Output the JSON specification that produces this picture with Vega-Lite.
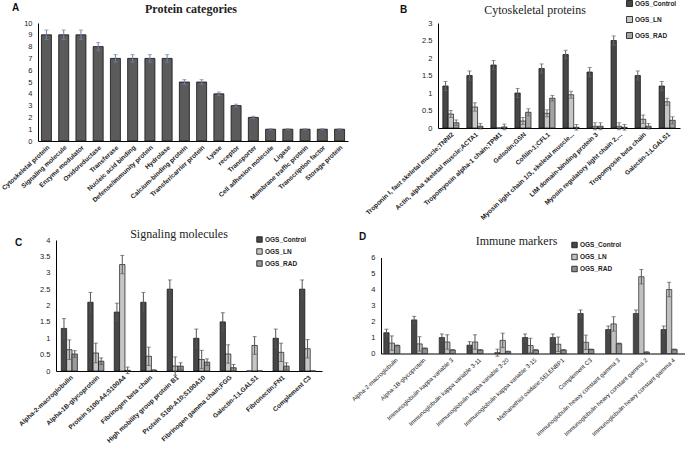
{
  "$schema": "https://vega.github.io/schema/vega-lite/v6.json",
  "padding": 0,
  "background": "white",
  "config": {
    "view": {"stroke": null},
    "axis": {"grid": false, "ticks": false, "domainColor": "#000", "domainWidth": 1, "labelFont": "Liberation Sans", "labelColor": "#222"},
    "axisX": {"labelAngle": -43, "labelFontSize": 6.5, "labelFontWeight": "bold", "labelPadding": 3, "labelLimit": 300, "labelOverlap": false},
    "axisY": {"labelFontSize": 7.5, "labelPadding": 6, "format": "~r", "labelOverlap": false, "titleFont": "Liberation Sans", "titleFontWeight": "bold", "titleFontSize": 10, "titleAngle": 0, "titleColor": "#111"},
    "title": {"font": "Liberation Serif", "fontWeight": "normal", "fontSize": 12, "color": "#222", "frame": "group"},
    "legend": {"labelFont": "Liberation Sans", "labelFontWeight": "bold", "labelFontSize": 6.5, "labelColor": "#222", "symbolType": "square", "symbolSize": 30, "symbolStrokeColor": "#111", "symbolStrokeWidth": 0.8, "rowPadding": 3, "labelOffset": 2, "title": null}
  },
  "datasets": {
    "A": [
      {"cat": "Cytoskeletal protein", "value": 9, "err": 0.4},
      {"cat": "Signaling molecule", "value": 9, "err": 0.4},
      {"cat": "Enzyme modulator", "value": 9, "err": 0.4},
      {"cat": "Oxidoreductase", "value": 8, "err": 0.35},
      {"cat": "Transferase", "value": 7, "err": 0.32},
      {"cat": "Nucleic acid binding", "value": 7, "err": 0.32},
      {"cat": "Defense/immunity protein", "value": 7, "err": 0.32},
      {"cat": "Hydrolase", "value": 7, "err": 0.32},
      {"cat": "Calcium-binding protein", "value": 5, "err": 0.2},
      {"cat": "Transfer/carrier protein", "value": 5, "err": 0.2},
      {"cat": "Lyase", "value": 4, "err": 0.15},
      {"cat": "receptor", "value": 3, "err": 0.12},
      {"cat": "Transporter", "value": 2, "err": 0.1},
      {"cat": "Cell adhesion molecule", "value": 1, "err": 0.05},
      {"cat": "Ligase", "value": 1, "err": 0.05},
      {"cat": "Membrane traffic protein", "value": 1, "err": 0.05},
      {"cat": "Transcription factor", "value": 1, "err": 0.05},
      {"cat": "Storage protein", "value": 1, "err": 0.05}
    ],
    "B": [
      {"cat": "Troponin I, fast skeletal muscle;TNNI2", "grp": "OGS_Control", "value": 1.2, "err": 0.13},
      {"cat": "Troponin I, fast skeletal muscle;TNNI2", "grp": "OGS_LN", "value": 0.4, "err": 0.1},
      {"cat": "Troponin I, fast skeletal muscle;TNNI2", "grp": "OGS_RAD", "value": 0.15, "err": 0.08},
      {"cat": "Actin, alpha skeletal muscle;ACTA1", "grp": "OGS_Control", "value": 1.5, "err": 0.13},
      {"cat": "Actin, alpha skeletal muscle;ACTA1", "grp": "OGS_LN", "value": 0.6, "err": 0.12},
      {"cat": "Actin, alpha skeletal muscle;ACTA1", "grp": "OGS_RAD", "value": 0.05, "err": 0.08},
      {"cat": "Tropomyosin alpha-1 chain;TPM1", "grp": "OGS_Control", "value": 1.8, "err": 0.13},
      {"cat": "Tropomyosin alpha-1 chain;TPM1", "grp": "OGS_LN", "value": 0, "err": 0},
      {"cat": "Tropomyosin alpha-1 chain;TPM1", "grp": "OGS_RAD", "value": 0.03, "err": 0.08},
      {"cat": "Gelsolin;GSN", "grp": "OGS_Control", "value": 1.0, "err": 0.13},
      {"cat": "Gelsolin;GSN", "grp": "OGS_LN", "value": 0.2, "err": 0.1},
      {"cat": "Gelsolin;GSN", "grp": "OGS_RAD", "value": 0.45, "err": 0.1},
      {"cat": "Cofilin-1;CFL1", "grp": "OGS_Control", "value": 1.7, "err": 0.13},
      {"cat": "Cofilin-1;CFL1", "grp": "OGS_LN", "value": 0.42, "err": 0.1},
      {"cat": "Cofilin-1;CFL1", "grp": "OGS_RAD", "value": 0.85, "err": 0.08},
      {"cat": "Myosin light chain 1/3, skeletal muscle...", "grp": "OGS_Control", "value": 2.1, "err": 0.12},
      {"cat": "Myosin light chain 1/3, skeletal muscle...", "grp": "OGS_LN", "value": 0.95, "err": 0.1},
      {"cat": "Myosin light chain 1/3, skeletal muscle...", "grp": "OGS_RAD", "value": 0.02, "err": 0.08},
      {"cat": "LIM domain-binding protein 3", "grp": "OGS_Control", "value": 1.6, "err": 0.13},
      {"cat": "LIM domain-binding protein 3", "grp": "OGS_LN", "value": 0.05, "err": 0.1},
      {"cat": "LIM domain-binding protein 3", "grp": "OGS_RAD", "value": 0.05, "err": 0.1},
      {"cat": "Myosin regulatory light chain 2,...", "grp": "OGS_Control", "value": 2.5, "err": 0.13},
      {"cat": "Myosin regulatory light chain 2,...", "grp": "OGS_LN", "value": 0.05, "err": 0.1},
      {"cat": "Myosin regulatory light chain 2,...", "grp": "OGS_RAD", "value": 0.02, "err": 0.08},
      {"cat": "Tropomyosin beta chain", "grp": "OGS_Control", "value": 1.5, "err": 0.13},
      {"cat": "Tropomyosin beta chain", "grp": "OGS_LN", "value": 0.25, "err": 0.12},
      {"cat": "Tropomyosin beta chain", "grp": "OGS_RAD", "value": 0.05, "err": 0.08},
      {"cat": "Galectin-1;LGALS1", "grp": "OGS_Control", "value": 1.2, "err": 0.13},
      {"cat": "Galectin-1;LGALS1", "grp": "OGS_LN", "value": 0.75, "err": 0.1},
      {"cat": "Galectin-1;LGALS1", "grp": "OGS_RAD", "value": 0.22, "err": 0.1}
    ],
    "C": [
      {"cat": "Alpha-2-macroglobulin", "grp": "OGS_Control", "value": 1.3, "err": 0.3},
      {"cat": "Alpha-2-macroglobulin", "grp": "OGS_LN", "value": 0.65, "err": 0.3},
      {"cat": "Alpha-2-macroglobulin", "grp": "OGS_RAD", "value": 0.52, "err": 0.1},
      {"cat": "Alpha-1B-glycoprotein", "grp": "OGS_Control", "value": 2.1, "err": 0.3},
      {"cat": "Alpha-1B-glycoprotein", "grp": "OGS_LN", "value": 0.55, "err": 0.3},
      {"cat": "Alpha-1B-glycoprotein", "grp": "OGS_RAD", "value": 0.3, "err": 0.1},
      {"cat": "Protein S100-A4;S100A4", "grp": "OGS_Control", "value": 1.8, "err": 0.27},
      {"cat": "Protein S100-A4;S100A4", "grp": "OGS_LN", "value": 3.25, "err": 0.28},
      {"cat": "Protein S100-A4;S100A4", "grp": "OGS_RAD", "value": 0.02, "err": 0.1},
      {"cat": "Fibrinogen beta chain", "grp": "OGS_Control", "value": 2.1, "err": 0.3},
      {"cat": "Fibrinogen beta chain", "grp": "OGS_LN", "value": 0.45, "err": 0.28},
      {"cat": "Fibrinogen beta chain", "grp": "OGS_RAD", "value": 0.02, "err": 0.02},
      {"cat": "High mobility group protein B1", "grp": "OGS_Control", "value": 2.5, "err": 0.28},
      {"cat": "High mobility group protein B1", "grp": "OGS_LN", "value": 0.15, "err": 0.28},
      {"cat": "High mobility group protein B1", "grp": "OGS_RAD", "value": 0.15, "err": 0.1},
      {"cat": "Protein S100-A10;S100A10", "grp": "OGS_Control", "value": 1.0, "err": 0.28},
      {"cat": "Protein S100-A10;S100A10", "grp": "OGS_LN", "value": 0.35, "err": 0.28},
      {"cat": "Protein S100-A10;S100A10", "grp": "OGS_RAD", "value": 0.27, "err": 0.1},
      {"cat": "Fibrinogen gamma chain;FGG", "grp": "OGS_Control", "value": 1.5, "err": 0.28},
      {"cat": "Fibrinogen gamma chain;FGG", "grp": "OGS_LN", "value": 0.52, "err": 0.28},
      {"cat": "Fibrinogen gamma chain;FGG", "grp": "OGS_RAD", "value": 0.1, "err": 0.1},
      {"cat": "Galectin-1;LGALS1", "grp": "OGS_Control", "value": 0, "err": 0},
      {"cat": "Galectin-1;LGALS1", "grp": "OGS_LN", "value": 0.78, "err": 0.27},
      {"cat": "Galectin-1;LGALS1", "grp": "OGS_RAD", "value": 0, "err": 0},
      {"cat": "Fibronectin;FN1", "grp": "OGS_Control", "value": 1.0, "err": 0.28},
      {"cat": "Fibronectin;FN1", "grp": "OGS_LN", "value": 0.57, "err": 0.28},
      {"cat": "Fibronectin;FN1", "grp": "OGS_RAD", "value": 0.15, "err": 0.1},
      {"cat": "Complement C3", "grp": "OGS_Control", "value": 2.5, "err": 0.28},
      {"cat": "Complement C3", "grp": "OGS_LN", "value": 0.68, "err": 0.28},
      {"cat": "Complement C3", "grp": "OGS_RAD", "value": 0, "err": 0}
    ],
    "D": [
      {"cat": "Alpha-2-macroglobulin", "grp": "OGS_Control", "value": 1.3, "err": 0.22},
      {"cat": "Alpha-2-macroglobulin", "grp": "OGS_LN", "value": 0.65, "err": 0.45},
      {"cat": "Alpha-2-macroglobulin", "grp": "OGS_RAD", "value": 0.5, "err": 0.03},
      {"cat": "Alpha-1B-glycoprotein", "grp": "OGS_Control", "value": 2.1, "err": 0.22},
      {"cat": "Alpha-1B-glycoprotein", "grp": "OGS_LN", "value": 0.6, "err": 0.45},
      {"cat": "Alpha-1B-glycoprotein", "grp": "OGS_RAD", "value": 0.32, "err": 0.03},
      {"cat": "Immunoglobulin kappa variable 3", "grp": "OGS_Control", "value": 1.0, "err": 0.22},
      {"cat": "Immunoglobulin kappa variable 3", "grp": "OGS_LN", "value": 0.72, "err": 0.45},
      {"cat": "Immunoglobulin kappa variable 3", "grp": "OGS_RAD", "value": 0.22, "err": 0.03},
      {"cat": "Immunoglobulin kappa variable 3-11", "grp": "OGS_Control", "value": 0.52, "err": 0.22},
      {"cat": "Immunoglobulin kappa variable 3-11", "grp": "OGS_LN", "value": 0.72, "err": 0.45},
      {"cat": "Immunoglobulin kappa variable 3-11", "grp": "OGS_RAD", "value": 0.22, "err": 0.03},
      {"cat": "Immunoglobulin kappa variable 3-20", "grp": "OGS_Control", "value": 0.05, "err": 0.22},
      {"cat": "Immunoglobulin kappa variable 3-20", "grp": "OGS_LN", "value": 0.82, "err": 0.45},
      {"cat": "Immunoglobulin kappa variable 3-20", "grp": "OGS_RAD", "value": 0.12, "err": 0.03},
      {"cat": "Immunoglobulin kappa variable 3-15", "grp": "OGS_Control", "value": 1.0, "err": 0.22},
      {"cat": "Immunoglobulin kappa variable 3-15", "grp": "OGS_LN", "value": 0.5, "err": 0.45},
      {"cat": "Immunoglobulin kappa variable 3-15", "grp": "OGS_RAD", "value": 0.22, "err": 0.03},
      {"cat": "Methanethiol oxidase;SELENBP1", "grp": "OGS_Control", "value": 1.0, "err": 0.22},
      {"cat": "Methanethiol oxidase;SELENBP1", "grp": "OGS_LN", "value": 0.58, "err": 0.45},
      {"cat": "Methanethiol oxidase;SELENBP1", "grp": "OGS_RAD", "value": 0.22, "err": 0.03},
      {"cat": "Complement C3", "grp": "OGS_Control", "value": 2.5, "err": 0.22},
      {"cat": "Complement C3", "grp": "OGS_LN", "value": 0.7, "err": 0.45},
      {"cat": "Complement C3", "grp": "OGS_RAD", "value": 0.25, "err": 0.03},
      {"cat": "Immunoglobulin heavy constant gamma 3", "grp": "OGS_Control", "value": 1.5, "err": 0.22},
      {"cat": "Immunoglobulin heavy constant gamma 3", "grp": "OGS_LN", "value": 1.85, "err": 0.45},
      {"cat": "Immunoglobulin heavy constant gamma 3", "grp": "OGS_RAD", "value": 0.62, "err": 0.03},
      {"cat": "Immunoglobulin heavy constant gamma 2", "grp": "OGS_Control", "value": 2.5, "err": 0.22},
      {"cat": "Immunoglobulin heavy constant gamma 2", "grp": "OGS_LN", "value": 4.8, "err": 0.45},
      {"cat": "Immunoglobulin heavy constant gamma 2", "grp": "OGS_RAD", "value": 0.08, "err": 0.03},
      {"cat": "Immunoglobulin heavy constant gamma 4", "grp": "OGS_Control", "value": 1.5, "err": 0.22},
      {"cat": "Immunoglobulin heavy constant gamma 4", "grp": "OGS_LN", "value": 4.0, "err": 0.45},
      {"cat": "Immunoglobulin heavy constant gamma 4", "grp": "OGS_RAD", "value": 0.25, "err": 0.03}
    ]
  },
  "spacing": 7,
  "resolve": {"scale": {"color": "independent", "x": "independent", "y": "independent"}, "legend": {"color": "independent"}},
  "vconcat": [
    {
      "bounds": "flush",
      "spacing": 90,
      "resolve": {"scale": {"color": "independent", "x": "independent", "y": "independent"}, "legend": {"color": "independent"}},
      "hconcat": [
        {
          "width": 310,
          "height": 118,
          "data": {"name": "A"},
          "title": {"text": "Protein categories", "fontWeight": "bold", "fontSize": 12, "offset": 9, "dx": -2, "dy": 23},
          "encoding": {
            "x": {"field": "cat", "type": "nominal", "sort": null, "title": null, "scale": {"paddingInner": 0.42, "paddingOuter": 0.2}},
            "y": {"field": "value", "type": "quantitative", "scale": {"domain": [0, 10]}, "title": "A", "axis": {"values": [0,1,2,3,4,5,6,7,8,9,10], "titleX": -23, "titleY": -11}}
          },
          "layer": [
            {"mark": {"type": "bar", "color": "#5b5b5b", "stroke": "#111", "strokeWidth": 0.8}},
            {"mark": {"type": "errorbar", "ticks": {"size": 4}, "color": "#6f84a8"}, "encoding": {"yError": {"field": "err"}}}
          ]
        },
        {
          "width": 242,
          "height": 105,
          "data": {"name": "B"},
          "title": {"text": "Cytoskeletal proteins", "fontSize": 12, "offset": 10, "dx": -24, "dy": 27},
          "encoding": {
            "x": {"field": "cat", "type": "nominal", "sort": null, "title": null, "scale": {"paddingInner": 0.33, "paddingOuter": 0.2}},
            "xOffset": {"field": "grp", "type": "nominal", "scale": {"paddingInner": 0, "domain": ["OGS_Control", "OGS_LN", "OGS_RAD"]}},
            "y": {"field": "value", "type": "quantitative", "scale": {"domain": [0, 3]}, "title": "B", "axis": {"values": [0,0.5,1,1.5,2,2.5,3], "titleX": -35, "titleY": -9}}
          },
          "layer": [
            {
              "mark": {"type": "bar", "stroke": "#111", "strokeWidth": 0.7},
              "encoding": {
                "color": {"field": "grp", "type": "nominal", "scale": {"domain": ["OGS_Control", "OGS_LN", "OGS_RAD"], "range": ["#474747", "#c6c6c6", "#a3a3a3"]}, "legend": {"orient": "none", "legendX": 188, "legendY": -23, "rowPadding": 5, "symbolSize": 36}}
              }
            },
            {"mark": {"type": "errorbar", "ticks": {"size": 4}, "color": "#666"}, "encoding": {"yError": {"field": "err"}}}
          ]
        }
      ]
    },
    {
      "bounds": "flush",
      "spacing": 17,
      "resolve": {"scale": {"color": "independent", "x": "independent", "y": "independent"}, "legend": {"color": "independent"}},
      "hconcat": [
        {
          "width": 1,
          "height": 1,
          "data": {"values": []},
          "mark": "point"
        },
        {
          "bounds": "flush",
          "spacing": 59,
          "center": true,
          "resolve": {"scale": {"color": "independent", "x": "independent", "y": "independent"}, "legend": {"color": "independent"}},
          "hconcat": [
            {
              "width": 266,
              "height": 131,
              "data": {"name": "C"},
              "title": {"text": "Signaling molecules", "fontSize": 12, "offset": 3, "dx": -10, "dy": 8},
              "encoding": {
                "x": {"field": "cat", "type": "nominal", "sort": null, "title": null, "scale": {"paddingInner": 0.35, "paddingOuter": 0.2}},
                "xOffset": {"field": "grp", "type": "nominal", "scale": {"paddingInner": 0, "domain": ["OGS_Control", "OGS_LN", "OGS_RAD"]}},
                "y": {"field": "value", "type": "quantitative", "scale": {"domain": [0, 4]}, "title": "C", "axis": {"values": [0,0.5,1,1.5,2,2.5,3,3.5,4], "titleX": -38, "titleY": 7}}
              },
              "layer": [
                {
                  "mark": {"type": "bar", "stroke": "#111", "strokeWidth": 0.7},
                  "encoding": {
                    "color": {"field": "grp", "type": "nominal", "scale": {"domain": ["OGS_Control", "OGS_LN", "OGS_RAD"], "range": ["#474747", "#c6c6c6", "#9a9a9a"]}, "legend": {"orient": "none", "legendX": 200, "legendY": -4}}
                  }
                },
                {"mark": {"type": "errorbar", "ticks": {"size": 4}, "color": "#555"}, "encoding": {"yError": {"field": "err"}}}
              ]
            },
            {
              "width": 305,
              "height": 96,
              "data": {"name": "D"},
              "title": {"text": "Immune markers", "fontSize": 12, "offset": 13, "dx": -17, "dy": 29},
              "encoding": {
                "x": {"field": "cat", "type": "nominal", "sort": null, "title": null, "scale": {"paddingInner": 0.2, "paddingOuter": 0.1}, "axis": {"labelFontWeight": "normal", "labelFontSize": 6}},
                "xOffset": {"field": "grp", "type": "nominal", "scale": {"paddingInner": 0, "domain": ["OGS_Control", "OGS_LN", "OGS_RAD"]}},
                "y": {"field": "value", "type": "quantitative", "scale": {"domain": [0, 6]}, "title": "D", "axis": {"values": [0,1,2,3,4,5,6], "titleX": -19, "titleY": -16}}
              },
              "layer": [
                {
                  "mark": {"type": "bar", "stroke": "#222", "strokeWidth": 0.7},
                  "encoding": {
                    "color": {"field": "grp", "type": "nominal", "scale": {"domain": ["OGS_Control", "OGS_LN", "OGS_RAD"], "range": ["#474747", "#c0c0c0", "#8f8f8f"]}, "legend": {"orient": "none", "legendX": 190, "legendY": -16}}
                  }
                },
                {"mark": {"type": "errorbar", "ticks": {"size": 4}, "color": "#555"}, "encoding": {"yError": {"field": "err"}}}
              ]
            }
          ]
        }
      ]
    }
  ]
}
